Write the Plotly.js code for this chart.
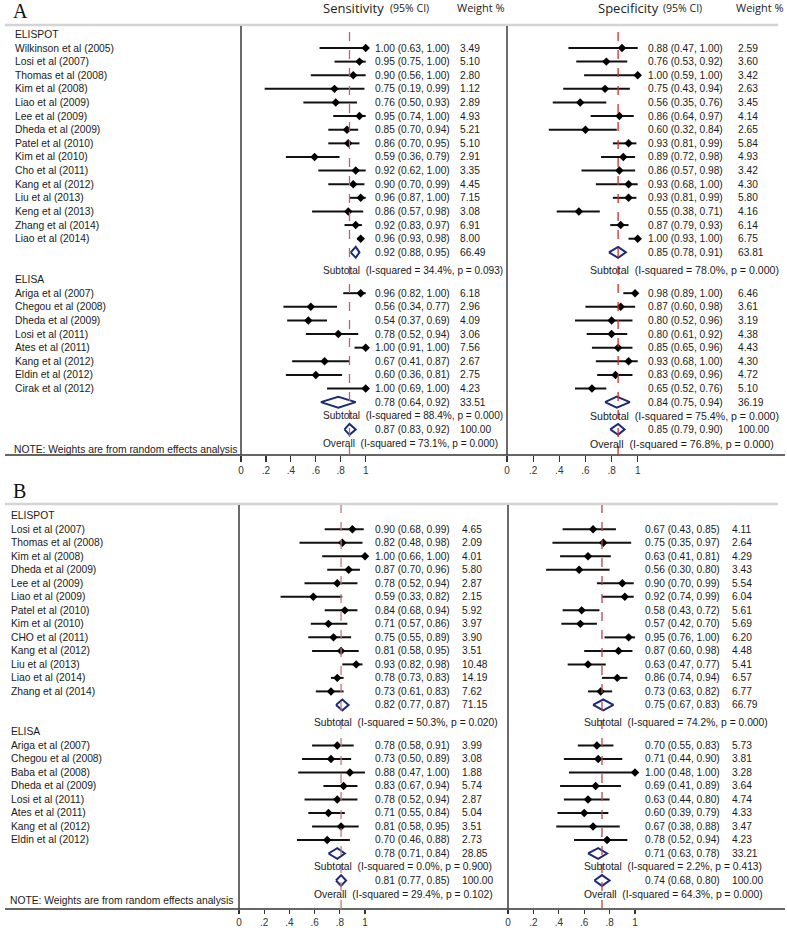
<!DOCTYPE html>
<html><head><meta charset="utf-8">
<script src="https://cdn.plot.ly/plotly-3.0.1.min.js"></script>
<style>html,body{margin:0;padding:0;background:#fff}#chart{width:787px;height:928px}</style>
</head><body><div id="chart"></div>
<script>
// ---------------- DATA ----------------
const groupNames = ['ELISPOT', 'ELISA'];

// Panel A
const A_studies_elispot = ['Wilkinson et al (2005)','Losi et al (2007)','Thomas et al (2008)','Kim et al (2008)','Liao et al (2009)','Lee et al (2009)','Dheda et al (2009)','Patel et al (2010)','Kim et al (2010)','Cho et al (2011)','Kang et al (2012)','Liu et al (2013)','Keng et al (2013)','Zhang et al (2014)','Liao et al (2014)'];
const A_studies_elisa = ['Ariga et al (2007)','Chegou et al (2008)','Dheda et al (2009)','Losi et al (2011)','Ates et al (2011)','Kang et al (2012)','Eldin et al (2012)','Cirak et al (2012)'];
// [estimate, lower, upper, weight %]
const A_sens_elispot = [[1.00,0.63,1.00,3.49],[0.95,0.75,1.00,5.10],[0.90,0.56,1.00,2.80],[0.75,0.19,0.99,1.12],[0.76,0.50,0.93,2.89],[0.95,0.74,1.00,4.93],[0.85,0.70,0.94,5.21],[0.86,0.70,0.95,5.10],[0.59,0.36,0.79,2.91],[0.92,0.62,1.00,3.35],[0.90,0.70,0.99,4.45],[0.96,0.87,1.00,7.15],[0.86,0.57,0.98,3.08],[0.92,0.83,0.97,6.91],[0.96,0.93,0.98,8.00]];
const A_sens_elisa = [[0.96,0.82,1.00,6.18],[0.56,0.34,0.77,2.96],[0.54,0.37,0.69,4.09],[0.78,0.52,0.94,3.06],[1.00,0.91,1.00,7.56],[0.67,0.41,0.87,2.67],[0.60,0.36,0.81,2.75],[1.00,0.69,1.00,4.23]];
const A_sens_summary = [[0.92,0.88,0.95,66.49],[0.78,0.64,0.92,33.51],[0.87,0.83,0.92,100.00]];
const A_sens_het = [[34.4,'0.093'],[88.4,'0.000'],[73.1,'0.000']];

const A_spec_elispot = [[0.88,0.47,1.00,2.59],[0.76,0.53,0.92,3.60],[1.00,0.59,1.00,3.42],[0.75,0.43,0.94,2.63],[0.56,0.35,0.76,3.45],[0.86,0.64,0.97,4.14],[0.60,0.32,0.84,2.65],[0.93,0.81,0.99,5.84],[0.89,0.72,0.98,4.93],[0.86,0.57,0.98,3.42],[0.93,0.68,1.00,4.30],[0.93,0.81,0.99,5.80],[0.55,0.38,0.71,4.16],[0.87,0.79,0.93,6.14],[1.00,0.93,1.00,6.75]];
const A_spec_elisa = [[0.98,0.89,1.00,6.46],[0.87,0.60,0.98,3.61],[0.80,0.52,0.96,3.19],[0.80,0.61,0.92,4.38],[0.85,0.65,0.96,4.43],[0.93,0.68,1.00,4.30],[0.83,0.69,0.96,4.72],[0.65,0.52,0.76,5.10]];
const A_spec_summary = [[0.85,0.78,0.91,63.81],[0.84,0.75,0.94,36.19],[0.85,0.79,0.90,100.00]];
const A_spec_het = [[78.0,'0.000'],[75.4,'0.000'],[76.8,'0.000']];

// Panel B
const B_studies_elispot = ['Losi et al (2007)','Thomas et al (2008)','Kim et al (2008)','Dheda et al (2009)','Lee et al (2009)','Liao et al (2009)','Patel et al (2010)','Kim et al (2010)','CHO et al (2011)','Kang et al (2012)','Liu et al (2013)','Liao et al (2014)','Zhang et al (2014)'];
const B_studies_elisa = ['Ariga et al (2007)','Chegou et al (2008)','Baba et al (2008)','Dheda et al (2009)','Losi et al (2011)','Ates et al (2011)','Kang et al (2012)','Eldin et al (2012)'];
const B_sens_elispot = [[0.90,0.68,0.99,4.65],[0.82,0.48,0.98,2.09],[1.00,0.66,1.00,4.01],[0.87,0.70,0.96,5.80],[0.78,0.52,0.94,2.87],[0.59,0.33,0.82,2.15],[0.84,0.68,0.94,5.92],[0.71,0.57,0.86,3.97],[0.75,0.55,0.89,3.90],[0.81,0.58,0.95,3.51],[0.93,0.82,0.98,10.48],[0.78,0.73,0.83,14.19],[0.73,0.61,0.83,7.62]];
const B_sens_elisa = [[0.78,0.58,0.91,3.99],[0.73,0.50,0.89,3.08],[0.88,0.47,1.00,1.88],[0.83,0.67,0.94,5.74],[0.78,0.52,0.94,2.87],[0.71,0.55,0.84,5.04],[0.81,0.58,0.95,3.51],[0.70,0.46,0.88,2.73]];
const B_sens_summary = [[0.82,0.77,0.87,71.15],[0.78,0.71,0.84,28.85],[0.81,0.77,0.85,100.00]];
const B_sens_het = [[50.3,'0.020'],[0.0,'0.900'],[29.4,'0.102']];

const B_spec_elispot = [[0.67,0.43,0.85,4.11],[0.75,0.35,0.97,2.64],[0.63,0.41,0.81,4.29],[0.56,0.30,0.80,3.43],[0.90,0.70,0.99,5.54],[0.92,0.74,0.99,6.04],[0.58,0.43,0.72,5.61],[0.57,0.42,0.70,5.69],[0.95,0.76,1.00,6.20],[0.87,0.60,0.98,4.48],[0.63,0.47,0.77,5.41],[0.86,0.74,0.94,6.57],[0.73,0.63,0.82,6.77]];
const B_spec_elisa = [[0.70,0.55,0.83,5.73],[0.71,0.44,0.90,3.81],[1.00,0.48,1.00,3.28],[0.69,0.41,0.89,3.64],[0.63,0.44,0.80,4.74],[0.60,0.39,0.79,4.33],[0.67,0.38,0.88,3.47],[0.78,0.52,0.94,4.23]];
const B_spec_summary = [[0.75,0.67,0.83,66.79],[0.71,0.63,0.78,33.21],[0.74,0.68,0.80,100.00]];
const B_spec_het = [[74.2,'0.000'],[2.2,'0.413'],[64.3,'0.000']];

const tickVals = [0, 0.2, 0.4, 0.6, 0.8, 1];
const tickText = ['0', '.2', '.4', '.6', '.8', '1'];
const noteText = 'NOTE: Weights are from random effects analysis';

// ---------------- LAYOUT HELPERS ----------------
const W = 787, H = 928;
const F = 'Liberation Sans, Arial, sans-serif';
const FH = 'Open Sans, Noto Sans, sans-serif';
const px = v => v / W;
const py = v => 1 - v / H;
const TXT = '#1a1a1a';
const NAVY = '#1d2a78';
const FS = 10.2;
const FL = 10.3;

const panels = [
  {name:'A', labelX:12.7, letterY:11, ya:'y', yaxisKey:'yaxis', dom:[26,455], range:[30.88,-0.615], topLine:25, tickLen:6,
   studies:[A_studies_elispot, A_studies_elisa],
   sides:[
     {xa:'x', xaxisKey:'xaxis', data:[A_sens_elispot, A_sens_elisa], sum:A_sens_summary, het:A_sens_het, x0:241, x1:365.7, xEnd:507, valX:372.5, wX:457.5, hetX:320.5, hetFS:10.1, dash:'#b5676b'},
     {xa:'x2', xaxisKey:'xaxis2', data:[A_spec_elispot, A_spec_elisa], sum:A_spec_summary, het:A_spec_het, x0:507, x1:637.7, xEnd:785, valX:645.5, wX:735.5, hetX:587.5, hetFS:10.6, dash:'#d42a2a'}
   ]},
  {name:'B', labelX:9.3, letterY:491, ya:'y2', yaxisKey:'yaxis2', dom:[505,909], range:[29.11,-0.8], topLine:504, tickLen:4,
   studies:[B_studies_elispot, B_studies_elisa],
   sides:[
     {xa:'x3', xaxisKey:'xaxis3', data:[B_sens_elispot, B_sens_elisa], sum:B_sens_summary, het:B_sens_het, x0:239, x1:365, xEnd:508, valX:372.5, wX:459.5, hetX:312, hetFS:10.3, dash:'#c27a7e'},
     {xa:'x4', xaxisKey:'xaxis4', data:[B_spec_elispot, B_spec_elisa], sum:B_spec_summary, het:B_spec_het, x0:508, x1:635, xEnd:785, valX:642.5, wX:729.5, hetX:582, hetFS:10.3, dash:'#b8464a'}
   ]}
];

const traces = [];
const annotations = [];
const shapes = [];
const layout = {
  width: W, height: H, margin:{l:0,r:0,t:0,b:0},
  paper_bgcolor:'#fff', plot_bgcolor:'rgba(0,0,0,0)', showlegend:false,
  font:{family:F, size:FS, color:TXT}
};

const fmt = r => `${r[0].toFixed(2)} (${r[1].toFixed(2)}, ${r[2].toFixed(2)})`;
function ann(x, y, yref, text, size, extra) {
  return Object.assign({xref:'paper', x:px(x), yref:yref, y:y, text:text, showarrow:false,
    xanchor:'left', yanchor:'middle', font:{family:F, size:size||FS, color:TXT}}, extra||{});
}

panels.forEach(p => {
  const n1 = p.studies[0].length, n2 = p.studies[1].length;
  const rowsG = [p.studies[0].map((_, i) => i + 1), p.studies[1].map((_, i) => n1 + 4 + i)];
  const headerRows = [0, n1 + 3];
  const diaRows = [n1 + 1, n1 + n2 + 4, n1 + n2 + 6];
  const hetRows = [n1 + 2.3, n1 + n2 + 5, n1 + n2 + 7.05];
  const noteRow = n1 + n2 + 7.5;

  layout[p.yaxisKey] = {domain:[py(p.dom[1]), py(p.dom[0])], range:p.range, visible:false, fixedrange:true};

  // Panel letter
  annotations.push({xref:'paper', yref:'paper', x:px(11), y:py(p.letterY), text:p.name, showarrow:false,
    xanchor:'left', yanchor:'middle', font:{family:'Liberation Serif, DejaVu Serif, serif', size:20, color:'#111'}});
  // Group headers and study labels
  groupNames.forEach((g, gi) => {
    annotations.push(ann(p.labelX, headerRows[gi], p.ya, g, FL));
    p.studies[gi].forEach((s, i) => annotations.push(ann(p.labelX, rowsG[gi][i], p.ya, s, FL)));
  });
  annotations.push(ann(p.labelX - 1, noteRow, p.ya, noteText, 10.3));

  // Frame lines
  shapes.push({type:'line', xref:'paper', yref:'paper', x0:px(5), x1:px(778), y0:py(p.topLine), y1:py(p.topLine), line:{color:'#d4d4d4', width:2.5}});
  shapes.push({type:'line', xref:'paper', yref:'paper', x0:px(5), x1:px(785), y0:py(p.dom[1]), y1:py(p.dom[1]), line:{color:'#333', width:1.3}});

  p.sides.forEach(s => {
    const scale = s.x1 - s.x0;
    layout[s.xaxisKey] = {domain:[px(s.x0), px(s.xEnd)], range:[0, (s.xEnd - s.x0) / scale], anchor:p.ya,
      tickvals:tickVals, ticktext:tickText, ticks:'outside', ticklen:p.tickLen, tickwidth:1.2, tickcolor:'#333',
      showline:false, showgrid:false, zeroline:false, fixedrange:true,
      tickfont:{family:F, size:10, color:'#333'}};
    // vertical panel line
    shapes.push({type:'line', xref:'paper', yref:'paper', x0:px(s.x0), x1:px(s.x0), y0:py(p.dom[1]), y1:py(p.dom[0]), line:{color:'#3a3a3a', width:1.5}});
    // dashed line at overall estimate
    shapes.push({type:'line', xref:s.xa, yref:p.ya + ' domain', x0:s.sum[2][0], x1:s.sum[2][0], y0:0, y1:1, line:{color:s.dash, width:1.3, dash:'dash'}});

    // CI lines and points
    const cx = [], cy = [], mx = [], my = [];
    s.data.forEach((grp, gi) => grp.forEach((r, i) => {
      const row = rowsG[gi][i];
      cx.push(r[1], r[2], null); cy.push(row, row, null);
      mx.push(r[0]); my.push(row);
      annotations.push(ann(s.valX, row, p.ya, fmt(r)));
      annotations.push(ann(s.wX, row, p.ya, r[3].toFixed(2)));
    }));
    traces.push({type:'scatter', mode:'lines', x:cx, y:cy, xaxis:s.xa, yaxis:p.ya, line:{color:'#111', width:2}, hoverinfo:'skip'});
    traces.push({type:'scatter', mode:'markers', x:mx, y:my, xaxis:s.xa, yaxis:p.ya, marker:{symbol:'diamond', size:6.5, color:'#000'}, hoverinfo:'skip'});

    // Summary diamonds
    const h = 0.4;
    s.sum.forEach((r, k) => {
      const row = diaRows[k];
      traces.push({type:'scatter', mode:'lines', x:[r[1], r[0], r[2], r[0], r[1]], y:[row, row - h, row, row + h, row],
        xaxis:s.xa, yaxis:p.ya, line:{color:NAVY, width:2}, hoverinfo:'skip'});
      annotations.push(ann(s.valX, row, p.ya, fmt(r)));
      annotations.push(ann(s.wX, row, p.ya, r[3].toFixed(2)));
      const lbl = k < 2 ? 'Subtotal' : 'Overall';
      annotations.push(ann(s.hetX, hetRows[k], p.ya, `${lbl}\u00a0 (I-squared = ${s.het[k][0].toFixed(1)}%, p = ${s.het[k][1]})`, s.hetFS));
    });
  });
});

// Column headers (panel A only)
const hdr = (x, t, size, fam) => ({xref:'paper', yref:'paper', x:px(x), y:py(8), text:t, showarrow:false,
  xanchor:'left', yanchor:'middle', font:{family:fam, size:size, color:'#222'}});
annotations.push(hdr(321, 'Sensitivity', 13, FH), hdr(388, '(95% CI)', 10.5, FH), hdr(455, 'Weight %', 11, FH));
annotations.push(hdr(596, 'Specificity', 13, FH), hdr(661, '(95% CI)', 10.5, FH), hdr(734, 'Weight %', 11, FH));

layout.annotations = annotations;
layout.shapes = shapes;
Plotly.newPlot('chart', traces, layout, {displayModeBar:false, staticPlot:true});
</script>
</body></html>
